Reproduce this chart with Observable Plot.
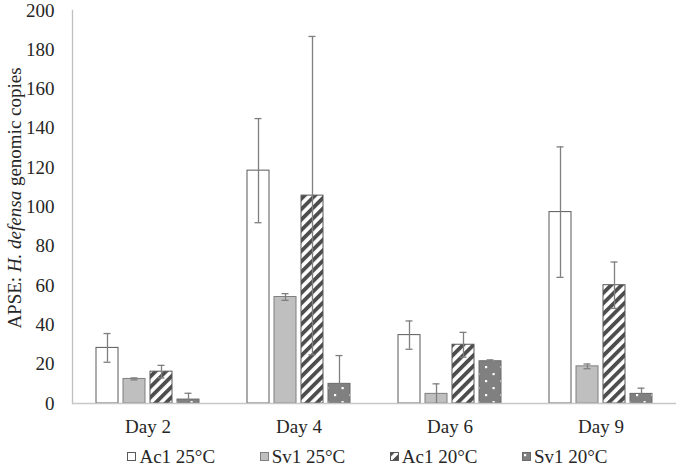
<!DOCTYPE html>
<html><head><meta charset="utf-8">
<script src="https://cdn.jsdelivr.net/npm/d3@7"></script>
<script src="https://cdn.jsdelivr.net/npm/@observablehq/plot@0.6"></script>
<style>
body{margin:0;background:#fff;font-family:"Liberation Serif","Times New Roman",serif;color:#262626;}
#chart{width:679px;height:468px;overflow:hidden;}
.legend{display:flex;justify-content:center;gap:44.5px;padding-left:58px;padding-right:2px;padding-top:2px;font-size:19px;line-height:21px;align-items:center;}
.legend .item{display:flex;align-items:center;white-space:nowrap;}
.legend svg{margin-right:3px;display:block}
</style></head><body><div id="chart"></div>
<script>
// Data
const days = ["Day 2", "Day 4", "Day 6", "Day 9"];
const series = ["Ac1 25°C", "Sv1 25°C", "Ac1 20°C", "Sv1 20°C"];
const ac1_25 = [28.3, 118.5, 34.8, 97.4];
const ac1_25_err = [7.3, 26.5, 7.2, 33.2];
const sv1_25 = [12.5, 54.2, 4.9, 18.9];
const sv1_25_err = [0.5, 1.7, 5.1, 1.2];
const ac1_20 = [16.2, 105.8, 29.9, 60.2];
const ac1_20_err = [3.2, 81, 6.3, 11.8];
const sv1_20 = [2.0, 10.0, 21.5, 4.9];
const sv1_20_err = [3.2, 14.4, 0.7, 2.9];
const yTicks = [0, 20, 40, 60, 80, 100, 120, 140, 160, 180, 200];

const values = [ac1_25, sv1_25, ac1_20, sv1_20];
const errors = [ac1_25_err, sv1_25_err, ac1_20_err, sv1_20_err];
const rows = days.flatMap((day, i) => series.map((s, j) => ({
  day, series: s, value: values[j][i],
  lo: Math.max(0, values[j][i] - errors[j][i]),
  hi: values[j][i] + errors[j][i]
})));

const styles = [
  {fill: "white", stroke: "#595959"},
  {fill: "#bfbfbf", stroke: "#7f7f7f"},
  {fill: "url(#stripes)", stroke: "#595959"},
  {fill: "url(#dots)", stroke: "#6a6a6a"}
];
const errColor = "#7f7f7f";

const plot = Plot.plot({
  width: 679,
  height: 444,
  marginLeft: 71,
  marginRight: 2,
  marginTop: 10,
  marginBottom: 41,
  style: {fontFamily: "'Liberation Serif','Times New Roman',serif", fontSize: "19px", color: "#262626", background: "white"},
  fx: {domain: days, padding: 0, axis: "bottom", tickSize: 0, tickPadding: 16, label: null},
  x: {domain: series, paddingInner: 0.2, paddingOuter: 0.855, axis: null},
  y: {domain: [0, 200], ticks: yTicks, tickSize: 0, tickPadding: 18, label: null},
  marks: [
    Plot.frame({anchor: "left", stroke: "#bfbfbf", strokeWidth: 1.3, facetAnchor: "left"}),
    ...series.map((s, j) => Plot.barY(rows.filter(r => r.series === s), {
      fx: "day", x: "series", y: "value", ...styles[j], strokeWidth: 1
    })),
    Plot.ruleY([0], {stroke: "#c8c8c8", strokeWidth: 1.5}),
    Plot.ruleX(rows, {fx: "day", x: "series", y1: "lo", y2: "hi", stroke: errColor, strokeWidth: 1.3}),
    Plot.tickY(rows, {fx: "day", x: "series", y: "hi", stroke: errColor, strokeWidth: 1.3, insetLeft: 7.5, insetRight: 7.5}),
    Plot.tickY(rows.filter(r => r.lo > 0), {fx: "day", x: "series", y: "lo", stroke: errColor, strokeWidth: 1.3, insetLeft: 7.5, insetRight: 7.5})
  ]
});

// pattern definitions
const svg = d3.select(plot);
const defs = svg.insert("defs", ":first-child");
const st = defs.append("pattern").attr("id", "stripes").attr("patternUnits", "userSpaceOnUse")
  .attr("width", 7.4).attr("height", 7.4).attr("patternTransform", "rotate(45)");
st.append("rect").attr("width", 7.4).attr("height", 7.4).attr("fill", "white");
st.append("rect").attr("width", 3.8).attr("height", 7.4).attr("fill", "#4d4d4d");
const dt = defs.append("pattern").attr("id", "dots").attr("patternUnits", "userSpaceOnUse")
  .attr("width", 15).attr("height", 14);
dt.append("rect").attr("width", 15).attr("height", 14).attr("fill", "#808080");
dt.append("rect").attr("x", 2).attr("y", 2).attr("width", 2.2).attr("height", 2.2).attr("fill", "white");
dt.append("rect").attr("x", 9.5).attr("y", 9).attr("width", 2.2).attr("height", 2.2).attr("fill", "white");

// y-axis title with italic part
const title = svg.append("text")
  .attr("transform", "translate(20.5,198) rotate(-90)")
  .attr("text-anchor", "middle")
  .attr("fill", "#262626")
  .style("font-size", "19px");
title.append("tspan").text("APSE: ");
title.append("tspan").attr("font-style", "italic").text("H. defensa");
title.append("tspan").text(" genomic copies");

const chart = document.getElementById("chart");
chart.appendChild(plot);

// legend
const legend = d3.select(chart).append("div").attr("class", "legend");
series.forEach((s, j) => {
  const item = legend.append("div").attr("class", "item");
  const sw = item.append("svg").attr("width", 9).attr("height", 9);
  sw.append("rect").attr("x", 0.5).attr("y", 0.5).attr("width", 8).attr("height", 8)
    .attr("fill", styles[j].fill).attr("stroke", styles[j].stroke).attr("stroke-width", 1);
  item.append("span").text(s);
});
</script></body></html>
